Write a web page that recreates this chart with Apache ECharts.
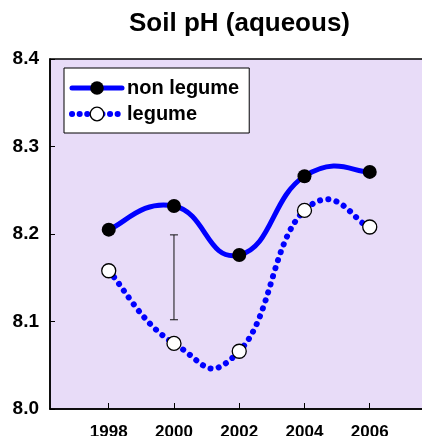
<!DOCTYPE html>
<html>
<head>
<meta charset="utf-8">
<script src="https://cdn.jsdelivr.net/npm/echarts@6/dist/echarts.min.js"></script>
<style>
  html, body { margin: 0; padding: 0; background: #fff; }
  #main { width: 422px; height: 436px; }
</style>
</head>
<body>
<div id="main"></div>
<script>
// data
var years = [1998, 2000, 2002, 2004, 2006];
var nonLegume = [8.205, 8.232, 8.176, 8.266, 8.271];
var legume = [8.158, 8.075, 8.066, 8.227, 8.208];
var yTicks = [8.0, 8.1, 8.2, 8.3, 8.4];
// error bar drawn at 2000
var errYear = 2000;
var errLow = 8.102;
var errHigh = 8.199;

var FONT = 'Liberation Sans, Arial, sans-serif';
var BLUE = '#0000ff';

// smooth curve through points, like a spreadsheet spline
function splinePath(pts, t) {
    var d = 'M' + pts[0][0] + ' ' + pts[0][1];
    for (var i = 0; i < pts.length - 1; i++) {
        var p0 = pts[i - 1] || pts[i];
        var p1 = pts[i];
        var p2 = pts[i + 1];
        var p3 = pts[i + 2] || pts[i + 1];
        var c1x = p1[0] + (p2[0] - p0[0]) * t;
        var c1y = p1[1] + (p2[1] - p0[1]) * t;
        var c2x = p2[0] - (p3[0] - p1[0]) * t;
        var c2y = p2[1] - (p3[1] - p1[1]) * t;
        d += ' C' + c1x + ' ' + c1y + ' ' + c2x + ' ' + c2y + ' ' + p2[0] + ' ' + p2[1];
    }
    return d;
}

function curveSeries(vals, style) {
    return {
        type: 'custom',
        silent: true,
        z: 2,
        data: [[years[0], vals[0]]],
        renderItem: function (params, api) {
            var pts = years.map(function (y, i) { return api.coord([y, vals[i]]); });
            return {
                type: 'path',
                shape: { pathData: splinePath(pts, 0.25) },
                style: style
            };
        }
    };
}

var myChart = echarts.init(document.getElementById('main'));
var option = {
    backgroundColor: '#fff',
    animation: false,
    title: {
        text: 'Soil pH (aqueous)',
        left: 124,
        top: 6,
        textStyle: { fontFamily: FONT, fontSize: 26, fontWeight: 'bold', color: '#000' }
    },
    legend: {
        orient: 'vertical',
        left: 64,
        top: 68,
        padding: [10, 10, 9, 5],
        itemGap: 6,
        itemWidth: 50,
        itemHeight: 17,
        backgroundColor: '#fff',
        borderColor: '#000',
        borderWidth: 1,
        borderRadius: 0,
        textStyle: { fontFamily: FONT, fontSize: 20, fontWeight: 'bold', color: '#000' },
        data: [
            {
                name: 'non legume',
                lineStyle: { color: BLUE, width: 5, opacity: 1, type: 'solid', cap: 'round' },
                itemStyle: { color: '#000', borderWidth: 0, opacity: 1 }
            },
            {
                name: 'legume',
                lineStyle: { color: BLUE, width: 6, opacity: 1, type: [0.1, 7.5], cap: 'round' },
                itemStyle: { color: '#fff', borderColor: '#000', borderWidth: 1.3, opacity: 1 }
            }
        ]
    },
    grid: {
        left: 50,
        top: 59,
        bottom: 27,
        right: -13,
        outerBoundsMode: 'none',
        show: true,
        backgroundColor: '#e8dcf8',
        borderColor: '#000',
        borderWidth: 1.5
    },
    xAxis: {
        type: 'value',
        min: 1996.2,
        max: 2008,
        splitLine: { show: false },
        axisLine: { lineStyle: { color: '#000', width: 1.5 } },
        axisTick: { inside: true, length: 6, customValues: years, lineStyle: { color: '#000', width: 1 } },
        axisLabel: {
            customValues: years,
            margin: 15,
            fontFamily: FONT, fontSize: 17, fontWeight: 'bold', color: '#000',
            formatter: function (v) { return String(Math.round(v)); }
        }
    },
    yAxis: {
        type: 'value',
        min: 8.0,
        max: 8.4,
        interval: 0.1,
        splitLine: { show: false },
        axisLine: { show: true, lineStyle: { color: '#000', width: 1.5 } },
        axisTick: { inside: true, length: 5, lineStyle: { color: '#000', width: 1 } },
        axisLabel: {
            margin: 11,
            fontFamily: FONT, fontSize: 19, fontWeight: 'bold', color: '#000',
            formatter: function (v) {
                return yTicks.indexOf(Math.round(v * 10) / 10) >= 0 ? v.toFixed(1) : '';
            }
        }
    },
    series: [
        curveSeries(nonLegume, { stroke: BLUE, lineWidth: 5, fill: null, lineCap: 'round', lineJoin: 'round' }),
        curveSeries(legume, { stroke: BLUE, lineWidth: 6, fill: null, lineCap: 'round', lineDash: [0.1, 8.3] }),
        {
            type: 'custom',
            silent: true,
            z: 2,
            data: [[errYear, errLow, errHigh]],
            renderItem: function (params, api) {
                var lo = api.coord([api.value(0), api.value(1)]);
                var hi = api.coord([api.value(0), api.value(2)]);
                var st = { stroke: '#111', lineWidth: 1 };
                return {
                    type: 'group',
                    children: [
                        { type: 'line', shape: { x1: lo[0], y1: lo[1], x2: hi[0], y2: hi[1] }, style: st },
                        { type: 'line', shape: { x1: lo[0] - 4, y1: lo[1], x2: lo[0] + 4, y2: lo[1] }, style: st },
                        { type: 'line', shape: { x1: hi[0] - 4, y1: hi[1], x2: hi[0] + 4, y2: hi[1] }, style: st }
                    ]
                };
            }
        },
        {
            name: 'non legume',
            type: 'line',
            z: 4,
            data: years.map(function (y, i) { return [y, nonLegume[i]]; }),
            symbol: 'circle',
            symbolSize: 14,
            showSymbol: true,
            itemStyle: { color: '#000', borderWidth: 0 },
            lineStyle: { opacity: 0 }
        },
        {
            name: 'legume',
            type: 'line',
            z: 4,
            data: years.map(function (y, i) { return [y, legume[i]]; }),
            symbol: 'circle',
            symbolSize: 14,
            showSymbol: true,
            itemStyle: { color: '#fff', borderColor: '#000', borderWidth: 1.3 },
            lineStyle: { opacity: 0 }
        }
    ]
};
myChart.setOption(option);
</script>
</body>
</html>
